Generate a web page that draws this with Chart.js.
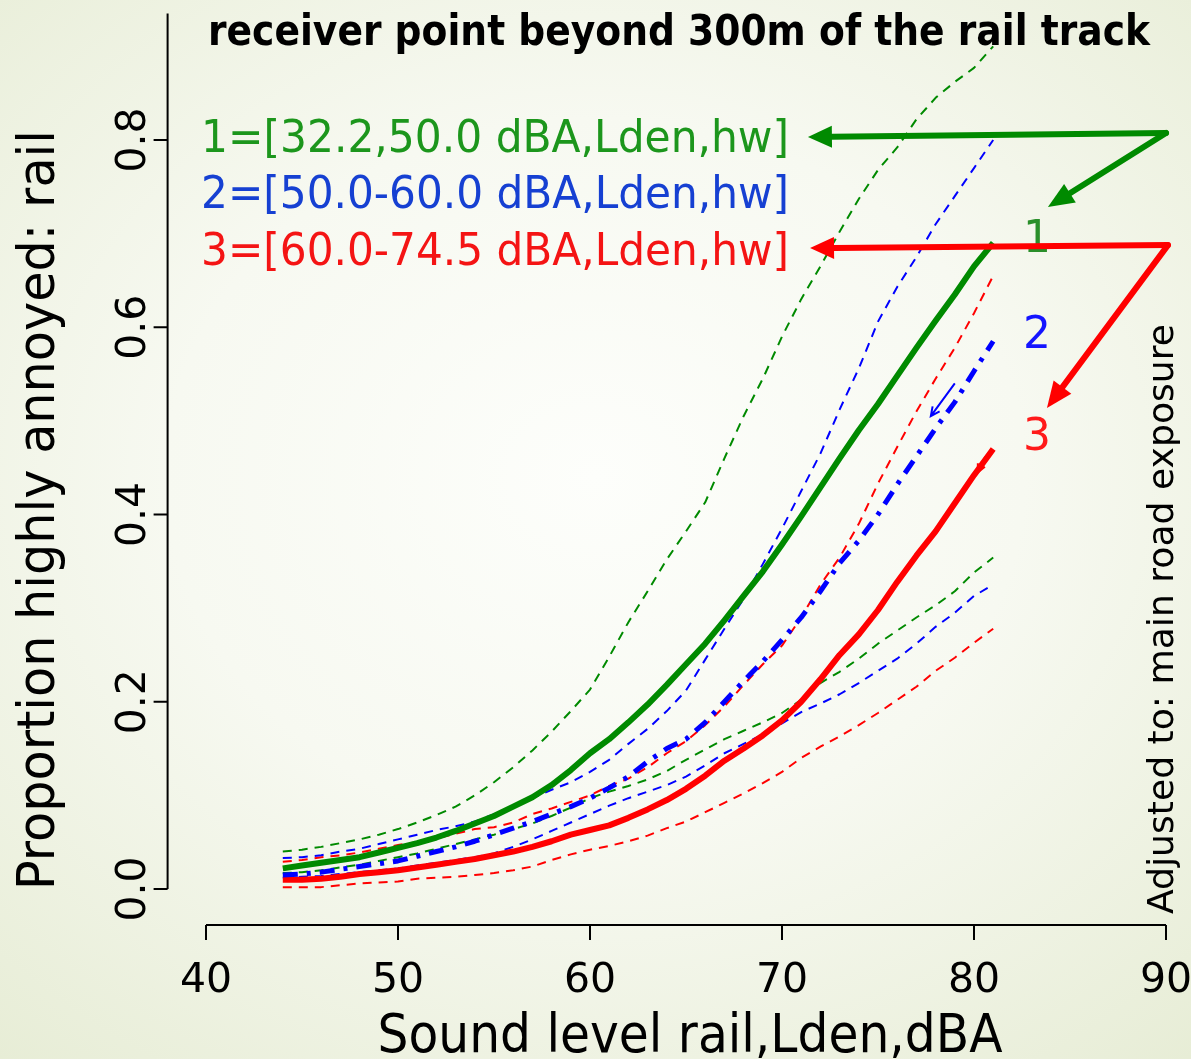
<!DOCTYPE html>
<html>
<head>
<meta charset="utf-8">
<title>Proportion highly annoyed: rail</title>
<script src="https://cdn.jsdelivr.net/npm/chart.js@4.4.1/dist/chart.umd.min.js"></script>
<style>
  html, body { margin: 0; padding: 0; }
  body {
    width: 1191px;
    height: 1059px;
    overflow: hidden;
    background: radial-gradient(ellipse 80% 75% at 50% 45%, #fdfefb 0%, #f7f9f1 45%, #e6ecd4 100%);
  }
  #wrap { position: relative; width: 1191px; height: 1059px; }
</style>
</head>
<body>
<div id="wrap"><canvas id="chart" width="1191" height="1059"></canvas></div>
<script>
// sound level (x) at which the curves were read
const soundLevels = [44, 45, 46, 47, 48, 49, 50, 51, 52, 53, 54, 55, 56, 57, 58, 59, 60, 61, 62,
  63, 64, 65, 66, 67, 68, 69, 70, 71, 72, 73, 74, 75, 76, 77, 78, 79, 80, 81];

// group 1 = [32.2,50.0 dBA]
const group1Fit = [0.022, 0.025, 0.028, 0.031, 0.034, 0.039, 0.044, 0.049, 0.055, 0.062, 0.070,
  0.078, 0.088, 0.098, 0.111, 0.127, 0.145, 0.160, 0.178, 0.197, 0.218, 0.240, 0.262, 0.287,
  0.313, 0.339, 0.368, 0.398, 0.429, 0.460, 0.490, 0.518, 0.548, 0.578, 0.607, 0.635, 0.665, 0.690];
const group1Upper = [0.040, 0.042, 0.045, 0.049, 0.053, 0.058, 0.064, 0.071, 0.079, 0.088, 0.100,
  0.114, 0.130, 0.148, 0.168, 0.190, 0.213, 0.248, 0.285, 0.318, 0.352, 0.382, 0.413, 0.460,
  0.505, 0.545, 0.590, 0.630, 0.665, 0.702, 0.737, 0.768, 0.792, 0.822, 0.845, 0.862, 0.877, 0.900];
const group1Lower = [0.017, 0.018, 0.020, 0.023, 0.026, 0.030, 0.034, 0.038, 0.043, 0.048, 0.053,
  0.058, 0.064, 0.070, 0.078, 0.087, 0.097, 0.104, 0.110, 0.117, 0.126, 0.138, 0.149, 0.160,
  0.169, 0.178, 0.188, 0.202, 0.220, 0.232, 0.246, 0.262, 0.276, 0.290, 0.303, 0.318, 0.338, 0.354];

// group 2 = [50.0-60.0 dBA]
const group2Fit = [0.015, 0.016, 0.018, 0.021, 0.024, 0.027, 0.030, 0.035, 0.040, 0.045, 0.051,
  0.058, 0.065, 0.072, 0.080, 0.088, 0.097, 0.108, 0.120, 0.136, 0.150, 0.160, 0.178, 0.200,
  0.222, 0.243, 0.266, 0.290, 0.318, 0.348, 0.372, 0.400, 0.432, 0.462, 0.492, 0.520, 0.553, 0.585];
const group2Upper = [0.033, 0.034, 0.036, 0.040, 0.043, 0.048, 0.053, 0.058, 0.063, 0.067, 0.072,
  0.080, 0.088, 0.097, 0.106, 0.114, 0.125, 0.138, 0.155, 0.171, 0.190, 0.212, 0.245, 0.278,
  0.310, 0.347, 0.385, 0.425, 0.465, 0.512, 0.556, 0.606, 0.643, 0.675, 0.710, 0.740, 0.770, 0.800];
const group2Lower = [0.012, 0.013, 0.014, 0.016, 0.018, 0.020, 0.022, 0.025, 0.028, 0.031, 0.034,
  0.038, 0.045, 0.053, 0.062, 0.071, 0.080, 0.089, 0.097, 0.104, 0.111, 0.120, 0.132, 0.145,
  0.155, 0.165, 0.177, 0.189, 0.198, 0.208, 0.220, 0.233, 0.246, 0.262, 0.280, 0.295, 0.313, 0.325];

// group 3 = [60.0-74.5 dBA]
const group3Fit = [0.010, 0.010, 0.011, 0.013, 0.016, 0.018, 0.020, 0.023, 0.026, 0.029, 0.032,
  0.036, 0.040, 0.045, 0.051, 0.058, 0.063, 0.068, 0.076, 0.085, 0.095, 0.107, 0.121, 0.137,
  0.150, 0.164, 0.180, 0.200, 0.224, 0.250, 0.272, 0.298, 0.328, 0.356, 0.382, 0.412, 0.442, 0.470];
const group3Upper = [0.029, 0.031, 0.034, 0.036, 0.039, 0.043, 0.047, 0.050, 0.054, 0.059, 0.064,
  0.066, 0.071, 0.080, 0.086, 0.093, 0.100, 0.110, 0.118, 0.130, 0.145, 0.158, 0.175, 0.195,
  0.218, 0.240, 0.260, 0.290, 0.325, 0.354, 0.390, 0.433, 0.472, 0.510, 0.545, 0.578, 0.615, 0.655];
const group3Lower = [0.002, 0.002, 0.002, 0.004, 0.006, 0.007, 0.008, 0.011, 0.012, 0.013, 0.015,
  0.017, 0.020, 0.024, 0.031, 0.037, 0.042, 0.046, 0.051, 0.057, 0.065, 0.072, 0.082, 0.092,
  0.102, 0.113, 0.125, 0.140, 0.152, 0.163, 0.175, 0.188, 0.202, 0.216, 0.233, 0.247, 0.263, 0.278];

const xTicks = [40, 50, 60, 70, 80, 90];
const yTicks = [0, 0.2, 0.4, 0.6, 0.8];
const yTickLabels = ["0.0", "0.2", "0.4", "0.6", "0.8"];
const groupLabels = ["1=[32.2,50.0 dBA,Lden,hw]", "2=[50.0-60.0 dBA,Lden,hw]", "3=[60.0-74.5 dBA,Lden,hw]"];
const groupNumbers = ["1", "2", "3"];

const GREEN = "#008a00";
const BLUE = "#0000ff";
const RED = "#ff0000";
const FONT = "'DejaVu Sans', sans-serif";

const toPoints = (vals) => vals.map((v, i) => ({ x: soundLevels[i], y: v }));

function thin(label, vals, color) {
  return {
    label, data: toPoints(vals), borderColor: color, borderWidth: 2,
    borderDash: [9, 7], order: 2,
  };
}

// draw text centred at (x, y baseline); squeeze horizontally to a target width
function putText(ctx, text, x, y, size, opts = {}) {
  ctx.save();
  ctx.font = `${opts.weight || "normal"} ${size}px ${FONT}`;
  ctx.fillStyle = opts.color || "#000";
  ctx.textAlign = "center";
  ctx.textBaseline = "alphabetic";
  ctx.translate(x, y);
  if (opts.rotate) ctx.rotate(opts.rotate);
  if (opts.width) ctx.scale(opts.width / ctx.measureText(text).width, 1);
  ctx.fillText(text, 0, 0);
  ctx.restore();
}

function arrow(ctx, x1, y1, x2, y2, color, lw, head, half) {
  const a = Math.atan2(y2 - y1, x2 - x1);
  const bx = x2 - Math.cos(a) * head;
  const by = y2 - Math.sin(a) * head;
  ctx.save();
  ctx.strokeStyle = color;
  ctx.fillStyle = color;
  ctx.lineWidth = lw;
  ctx.lineCap = "round";
  ctx.beginPath();
  ctx.moveTo(x1, y1);
  ctx.lineTo(bx, by);
  ctx.stroke();
  ctx.beginPath();
  ctx.moveTo(x2, y2);
  ctx.lineTo(bx + Math.sin(a) * half, by - Math.cos(a) * half);
  ctx.lineTo(bx - Math.sin(a) * half, by + Math.cos(a) * half);
  ctx.closePath();
  ctx.fill();
  ctx.restore();
}

function openArrow(ctx, x1, y1, x2, y2, color, lw, head) {
  const a = Math.atan2(y2 - y1, x2 - x1);
  ctx.save();
  ctx.strokeStyle = color;
  ctx.lineWidth = lw;
  ctx.beginPath();
  ctx.moveTo(x1, y1);
  ctx.lineTo(x2, y2);
  ctx.moveTo(x2 - head * Math.cos(a - 0.45), y2 - head * Math.sin(a - 0.45));
  ctx.lineTo(x2, y2);
  ctx.lineTo(x2 - head * Math.cos(a + 0.45), y2 - head * Math.sin(a + 0.45));
  ctx.stroke();
  ctx.restore();
}

const decorations = {
  id: "decorations",
  afterDatasetsDraw(chart) {
    const { ctx, scales: { x, y } } = chart;
    const px = (v) => x.getPixelForValue(v);
    const py = (v) => y.getPixelForValue(v);

    // small arrows at the fitted curves
    openArrow(ctx, px(79.0), py(0.54), px(77.75), py(0.505), BLUE, 2, 10);
    openArrow(ctx, px(80.6), py(0.462), px(80.2), py(0.445), RED, 2, 9);

    // R-style detached axes
    ctx.save();
    ctx.strokeStyle = "#000";
    ctx.lineWidth = 2;
    const axisX = px(38.0);
    ctx.beginPath();
    ctx.moveTo(axisX, py(0.935));
    ctx.lineTo(axisX, py(0));
    yTicks.forEach((t) => {
      ctx.moveTo(axisX, py(t));
      ctx.lineTo(axisX - 14, py(t));
    });
    const axisY = py(-0.0385);
    ctx.moveTo(px(40), axisY);
    ctx.lineTo(px(90), axisY);
    xTicks.forEach((t) => {
      ctx.moveTo(px(t), axisY);
      ctx.lineTo(px(t), axisY + 15);
    });
    ctx.stroke();
    ctx.restore();

    xTicks.forEach((t) => putText(ctx, String(t), px(t), 992, 41));
    yTickLabels.forEach((lab, i) => putText(ctx, lab, 145, py(yTicks[i]), 41, { rotate: -Math.PI / 2 }));

    putText(ctx, "Sound level rail,Lden,dBA", 690, 1052, 53, { width: 625 });
    putText(ctx, "Proportion highly annoyed: rail", 54, 510, 51, { rotate: -Math.PI / 2, width: 760 });
    putText(ctx, "Adjusted to: main road exposure", 1173, 619, 36, { rotate: -Math.PI / 2, width: 590 });
    putText(ctx, "receiver point beyond 300m of the rail track", 679, 45, 42, { weight: "bold", width: 942 });

    const legendColors = ["#1c961c", "#1640d2", "#f41414"];
    const legendBase = [152, 208, 265];
    groupLabels.forEach((lab, i) => putText(ctx, lab, 495, legendBase[i], 44, { color: legendColors[i], width: 588 }));
    const numColors = ["#2a8f2a", "#1414ff", "#ff1a1a"];
    const numBase = [252, 348, 450];
    groupNumbers.forEach((n, i) => putText(ctx, n, 1037, numBase[i], 44, { color: numColors[i] }));

    // annotation arrows
    arrow(ctx, px(90), py(0.8075), px(71.35), py(0.8032), GREEN, 6, 24, 11);
    arrow(ctx, px(90), py(0.8075), px(83.85), py(0.7284), GREEN, 6, 26, 11);
    arrow(ctx, px(90.1), py(0.6877), px(71.46), py(0.6845), RED, 6, 24, 11);
    arrow(ctx, px(90.1), py(0.6877), px(83.8), py(0.5137), RED, 6, 26, 11);
  },
};

new Chart(document.getElementById("chart"), {
  type: "line",
  data: {
    datasets: [
      thin("1 upper", group1Upper, GREEN),
      thin("1 lower", group1Lower, GREEN),
      thin("2 upper", group2Upper, BLUE),
      thin("2 lower", group2Lower, BLUE),
      thin("3 upper", group3Upper, RED),
      thin("3 lower", group3Lower, RED),
      { label: "1", data: toPoints(group1Fit), borderColor: GREEN, borderWidth: 6, order: 1 },
      { label: "2", data: toPoints(group2Fit), borderColor: BLUE, borderWidth: 5, borderDash: [15, 9, 4, 9], order: 1 },
      { label: "3", data: toPoints(group3Fit), borderColor: RED, borderWidth: 6, order: 1 },
    ],
  },
  options: {
    responsive: false,
    animation: false,
    devicePixelRatio: 1,
    layout: { padding: { left: 206, right: 25, top: 0, bottom: 170 } },
    elements: {
      point: { radius: 0 },
      line: { tension: 0, fill: false, borderCapStyle: "butt", borderJoinStyle: "round" },
    },
    scales: {
      x: { type: "linear", min: 40, max: 90, display: false },
      y: { type: "linear", min: 0, max: 0.9495, display: false },
    },
    plugins: { legend: { display: false }, tooltip: { enabled: false } },
  },
  plugins: [decorations],
});
</script>
</body>
</html>
